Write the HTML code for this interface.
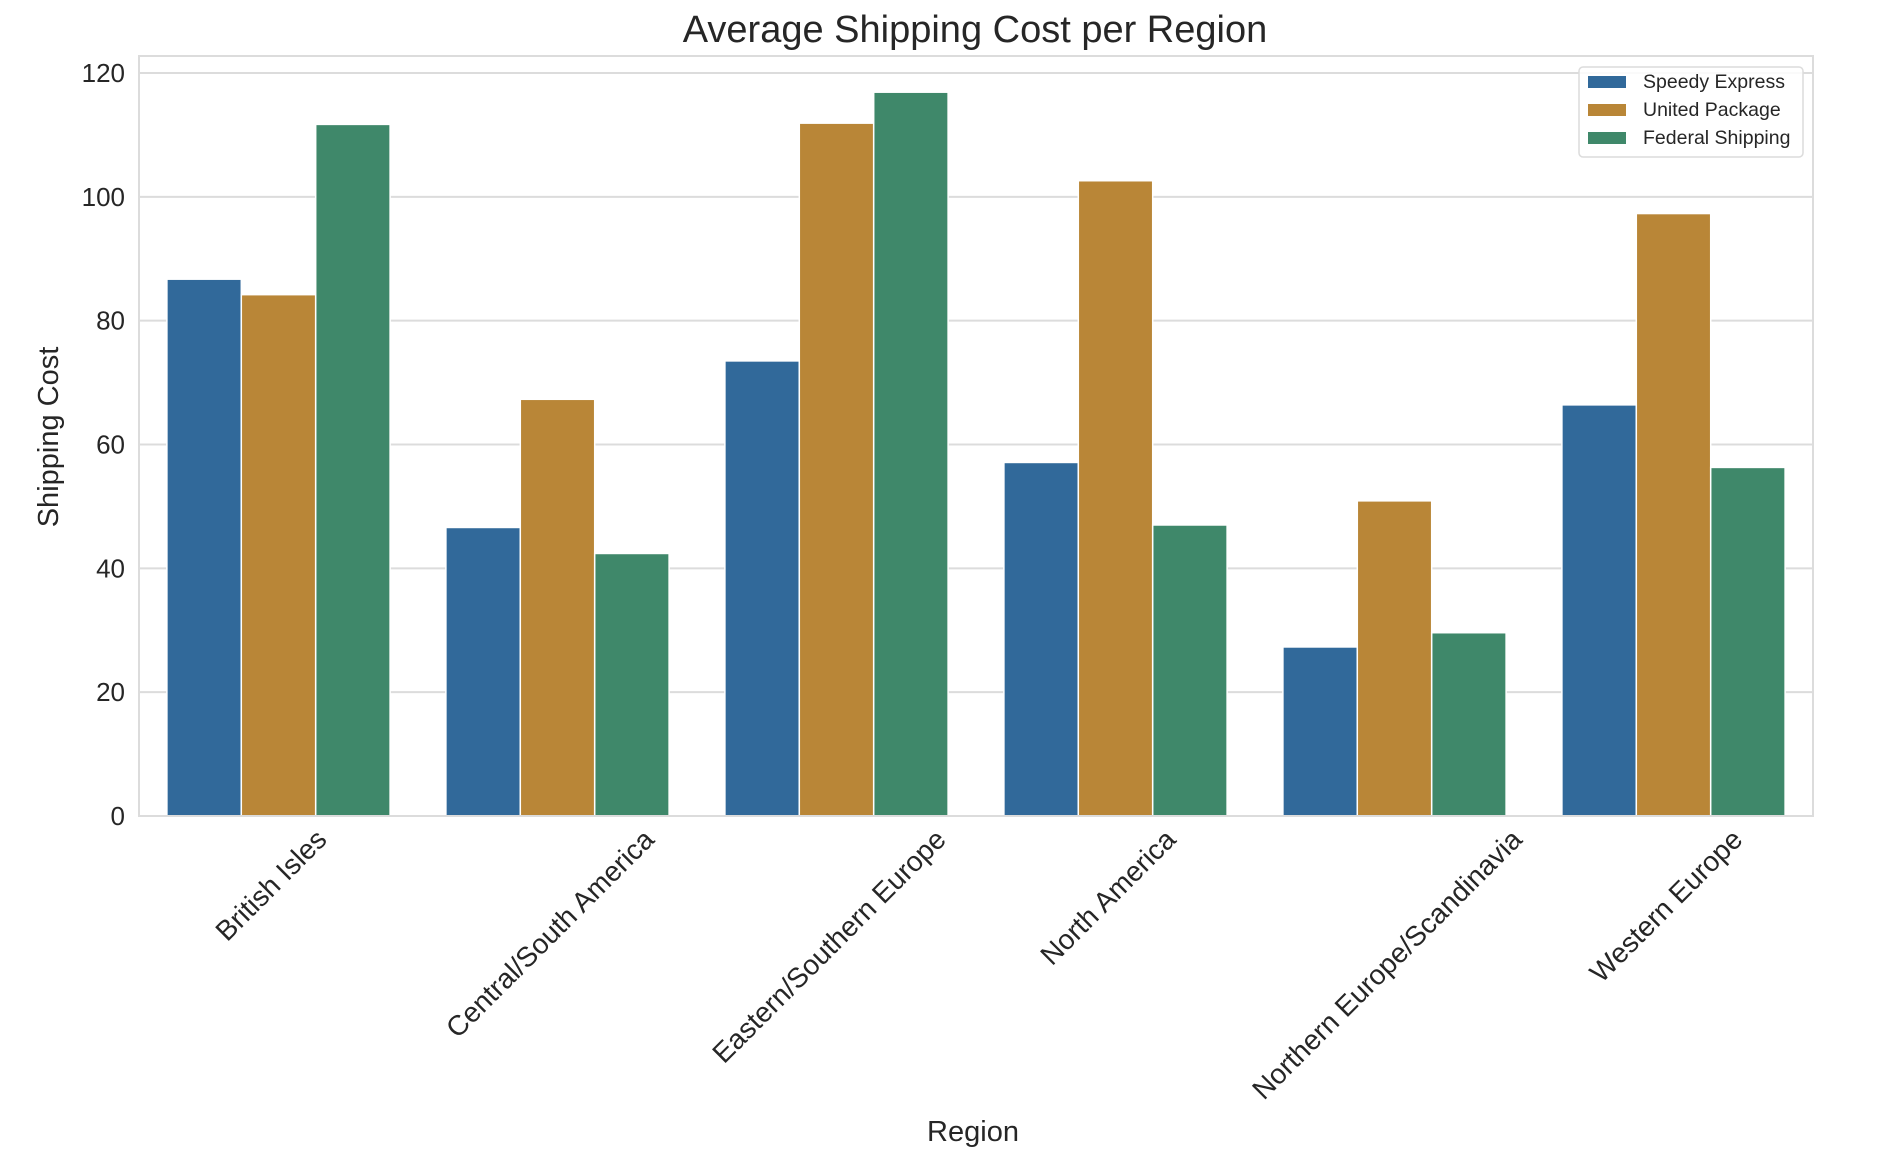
<!DOCTYPE html>
<html><head><meta charset="utf-8">
<style>
html,body{margin:0;padding:0;background:#fff;}
svg{display:block;font-family:"Liberation Sans",Arial,sans-serif;}
</style></head>
<body>
<svg id="chart" width="1878" height="1156" viewBox="0 0 1878 1156" xmlns="http://www.w3.org/2000/svg">
<rect width="1878" height="1156" fill="#fff"/>
<text x="975" y="42" font-size="38" fill="#262626" text-anchor="middle">Average Shipping Cost per Region</text>
<g id="grid"></g>
<g id="bars"></g>
<rect x="139" y="56" width="1674" height="760" fill="none" stroke="#dcdcdc" stroke-width="2"/>
<g id="yticks"></g>
<g id="xticks"></g>
<text transform="translate(58,437) rotate(-90)" font-size="29" fill="#262626" text-anchor="middle">Shipping Cost</text>
<text x="973" y="1141" font-size="29" fill="#262626" text-anchor="middle">Region</text>
<g id="legend"></g>
</svg>
<script>
const categories = ["British Isles","Central/South America","Eastern/Southern Europe","North America","Northern Europe/Scandinavia","Western Europe"];
const seriesNames = ["Speedy Express","United Package","Federal Shipping"];
const speedyExpress = [86.7,46.6,73.5,57.1,27.3,66.4];
const unitedPackage = [84.2,67.3,111.9,102.6,50.9,97.3];
const federalShipping = [111.7,42.4,116.9,47.0,29.6,56.3];
const yTicks = [0,20,40,60,80,100,120];

const series=[speedyExpress,unitedPackage,federalShipping];
const colors=["#31699a","#b98637","#3f886a"];
const NS="http://www.w3.org/2000/svg";
const L=139,R=1813,B=816,T120=73;
const y=v=>B-(B-T120)*v/120;
const gw=(R-L)/categories.length;
const bw=gw*0.8/3;
const x=(i,s)=>L+gw*i+gw*0.1+bw*s;
function mk(tag,attrs,parent){const e=document.createElementNS(NS,tag);for(const k in attrs)e.setAttribute(k,attrs[k]);parent.appendChild(e);return e;}
const grid=document.getElementById('grid'),bars=document.getElementById('bars'),yt=document.getElementById('yticks'),xt=document.getElementById('xticks'),lg=document.getElementById('legend');
yTicks.forEach(t=>{
  const ln=mk('line',{x1:L,x2:R,y1:y(t),y2:y(t),stroke:'#dcdcdc','stroke-width':2},grid);
  
  
  const tx=mk('text',{x:L-14,y:y(t)+9,'font-size':26,fill:'#262626','text-anchor':'end'},yt);
  tx.textContent=t;
  
  
});
categories.forEach((c,i)=>{
  series.forEach((arr,s)=>{
    const r=mk('rect',{x:x(i,s),y:y(arr[i]),width:bw,height:B-y(arr[i]),fill:colors[s],stroke:'#fff','stroke-width':1.5},bars);
    
    
  });
  const cx=L+gw*(i+0.5);
  const tx=mk('text',{'font-size':28,fill:'#262626','text-anchor':'middle','dominant-baseline':'middle'},xt);
  tx.textContent=c;
  
  
  const w=tx.getComputedTextLength();
  const cy=826+w*0.3536+10;
  tx.setAttribute('transform','translate('+(cx-6)+','+cy+') rotate(-45)');
});
mk('rect',{x:1579,y:67,width:224,height:90,rx:4,fill:'#fff','fill-opacity':0.85,stroke:'#dcdcdc','stroke-width':1.5},lg);
seriesNames.forEach((n,s)=>{
  const cy=82+28*s;
  const p=mk('rect',{x:1588,y:cy-6,width:38,height:12,fill:colors[s]},lg);
  
  
  const t=mk('text',{x:1643,y:cy+6,'font-size':19.5,fill:'#262626'},lg);
  t.textContent=n;
  
  
});
</script>
</body></html>
